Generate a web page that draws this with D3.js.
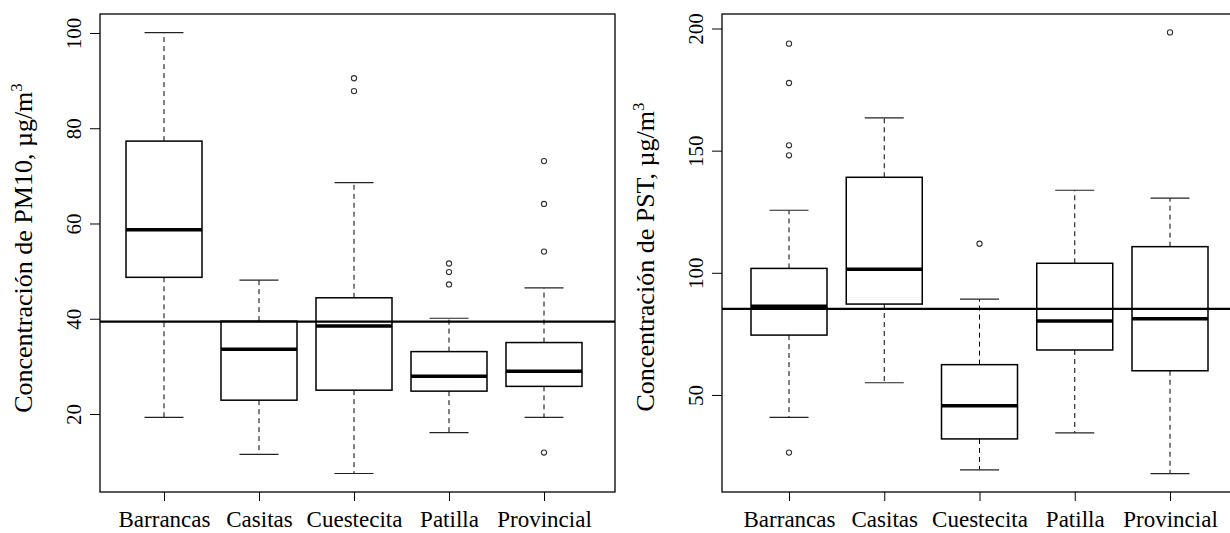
<!DOCTYPE html>
<html>
<head>
<meta charset="utf-8">
<script src="https://cdn.jsdelivr.net/npm/d3@7"></script>
<style>
  html, body { margin: 0; padding: 0; background: #fff; overflow: hidden; }
  svg { display: block; }
  svg text { font-family: "Liberation Serif", Tinos, "Times New Roman", Times, "DejaVu Serif", serif !important; fill: #000; }
</style>
</head>
<body>
<svg id="chart" width="1230" height="533"></svg>
<script>
// ---- data ----
const categories = ["Barrancas", "Casitas", "Cuestecita", "Patilla", "Provincial"];

// PM10 (left panel)
const pm10Low    = [19.3, 11.5,  7.5, 16.1, 19.3];
const pm10Q1     = [48.7, 22.9, 25.0, 24.8, 25.8];
const pm10Median = [58.7, 33.6, 38.5, 27.9, 29.0];
const pm10Q3     = [77.3, 39.5, 44.4, 33.1, 35.0];
const pm10High   = [100.1, 48.1, 68.6, 40.1, 46.5];
const pm10Outliers = [[], [], [90.5, 87.8], [51.6, 49.8, 47.2], [73.1, 64.1, 54.1, 11.9]];
const pm10Ref = 39.4;
const pm10Ticks = [20, 40, 60, 80, 100];

// PST (right panel)
const pstLow    = [40.8, 55.0, 19.3, 34.5, 17.8];
const pstQ1     = [74.5, 87.2, 32.0, 68.4, 59.9];
const pstMedian = [86.3, 101.5, 45.6, 80.3, 81.2];
const pstQ3     = [101.8, 139.1, 62.4, 103.9, 110.7];
const pstHigh   = [125.6, 163.4, 89.2, 133.8, 130.6];
const pstOutliers = [[193.8, 177.7, 152.2, 148.1, 26.4], [], [111.9], [], [198.4]];
const pstRef = 85.2;
const pstTicks = [50, 100, 150, 200];

const svg = d3.select("#chart");
const FONT = "'Liberation Serif', Tinos, 'Times New Roman', Times, 'DejaVu Serif', serif";

function panel(opts) {
  const g = svg.append("g");
  const x = d3.scalePoint().domain(categories).range(opts.xRange);
  const y = d3.scaleLinear().domain(opts.yDomain).range([492, 14]);
  const boxW = 76, capW = 39;

  const rows = categories.map((c, i) => ({
    c, low: opts.low[i], q1: opts.q1[i], med: opts.med[i], q3: opts.q3[i], high: opts.high[i], out: opts.out[i]
  }));

  g.selectAll(".wl").data(rows).join("line")
    .attr("x1", d => x(d.c)).attr("x2", d => x(d.c))
    .attr("y1", d => y(d.q1)).attr("y2", d => y(d.low))
    .attr("stroke", "#000").attr("stroke-width", 1).attr("stroke-dasharray", "5,4");
  g.selectAll(".wh").data(rows).join("line")
    .attr("x1", d => x(d.c)).attr("x2", d => x(d.c))
    .attr("y1", d => y(d.q3)).attr("y2", d => y(d.high))
    .attr("stroke", "#000").attr("stroke-width", 1).attr("stroke-dasharray", "5,4");
  ["low", "high"].forEach(k => {
    g.selectAll(".cap" + k).data(rows).join("line")
      .attr("x1", d => x(d.c) - capW / 2).attr("x2", d => x(d.c) + capW / 2)
      .attr("y1", d => y(d[k])).attr("y2", d => y(d[k]))
      .attr("stroke", "#222").attr("stroke-width", 1.2);
  });
  g.selectAll(".box").data(rows).join("rect")
    .attr("x", d => x(d.c) - boxW / 2).attr("width", boxW)
    .attr("y", d => y(d.q3)).attr("height", d => y(d.q1) - y(d.q3))
    .attr("fill", "#fff").attr("stroke", "#000").attr("stroke-width", 1.5);
  g.selectAll(".med").data(rows).join("line")
    .attr("x1", d => x(d.c) - boxW / 2).attr("x2", d => x(d.c) + boxW / 2)
    .attr("y1", d => y(d.med)).attr("y2", d => y(d.med))
    .attr("stroke", "#000").attr("stroke-width", 3.5);
  const pts = rows.flatMap(d => d.out.map(v => ({ c: d.c, v })));
  g.selectAll(".out").data(pts).join("circle")
    .attr("cx", d => x(d.c)).attr("cy", d => y(d.v)).attr("r", 2.6)
    .attr("fill", "none").attr("stroke", "#333").attr("stroke-width", 1.1);

  g.append("line")
    .attr("x1", opts.frame[0]).attr("x2", opts.frame[1])
    .attr("y1", y(opts.ref)).attr("y2", y(opts.ref))
    .attr("stroke", "#000").attr("stroke-width", 2.3);

  g.append("rect")
    .attr("x", opts.frame[0]).attr("y", 14)
    .attr("width", opts.frame[1] - opts.frame[0]).attr("height", 492 - 14)
    .attr("fill", "none").attr("stroke", "#000").attr("stroke-width", 1.3);

  const ya = g.append("g").attr("transform", `translate(${opts.frame[0]},0)`)
    .call(d3.axisLeft(y).tickValues(opts.ticks).tickSize(10).tickSizeOuter(0).tickFormat(d3.format("d")));
  ya.attr("font-family", FONT);
  ya.select(".domain").remove();
  ya.selectAll(".tick line").attr("stroke", "#000").attr("stroke-width", 1);
  ya.selectAll(".tick text")
    .attr("x", null).attr("dy", null)
    .attr("transform", "translate(-19,0) rotate(-90)")
    .attr("text-anchor", "middle")
    .style("font-size", "21px");

  const xa = g.append("g").attr("transform", "translate(0,492)")
    .call(d3.axisBottom(x).tickSize(9).tickSizeOuter(0));
  xa.attr("font-family", FONT);
  xa.select(".domain").remove();
  xa.selectAll(".tick line").attr("stroke", "#000").attr("stroke-width", 1);
  xa.selectAll(".tick text")
    .attr("y", 35).attr("dy", null)
    .style("font-size", "23px");

  const t = g.append("text")
    .attr("transform", `translate(${opts.frame[0] - 68},${opts.labelY}) rotate(-90)`)
    .attr("text-anchor", "middle")
    .style("font-size", "26px");
  t.append("tspan").text(opts.label);
  t.append("tspan").text("3").attr("dy", -10).style("font-size", "17px");
}

panel({
  xRange: [164, 544], frame: [100, 615], yDomain: [3.62, 103.99], labelY: 248,
  low: pm10Low, q1: pm10Q1, med: pm10Median, q3: pm10Q3, high: pm10High, out: pm10Outliers,
  ref: pm10Ref, ticks: pm10Ticks, label: "Concentración de PM10, µg/m"
});
panel({
  xRange: [789, 1170], frame: [722, 1239], yDomain: [10.27, 205.94], labelY: 257,
  low: pstLow, q1: pstQ1, med: pstMedian, q3: pstQ3, high: pstHigh, out: pstOutliers,
  ref: pstRef, ticks: pstTicks, label: "Concentración de PST, µg/m"
});
</script>
</body>
</html>
